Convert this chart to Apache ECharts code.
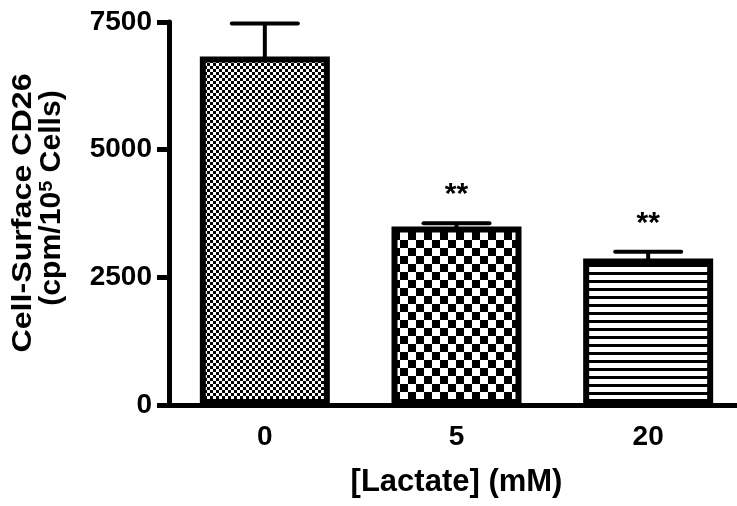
<!DOCTYPE html>
<html>
<head>
<meta charset="utf-8">
<script src="https://cdn.jsdelivr.net/npm/echarts@6/dist/echarts.min.js"></script>
<style>html,body{margin:0;padding:0;background:#fff}#c{width:737px;height:506px}</style>
</head>
<body>
<div id="c"></div>
<script>
// ---- data ----
const categories = ['0', '5', '20'];
const means = [6824, 3495, 2869];
const errors = [646, 65, 131];
const sigMarks = ['', '**', '**'];
const yTicks = [0, 2500, 5000, 7500];
const yTitle1 = 'Cell-Surface CD26';
const yTitle2 = '{a|(cpm/10}{s|5}{a| Cells)}';

// ---- patterns ----
function makeCanvas(w, h, draw) {
  const c = document.createElement('canvas');
  c.width = w; c.height = h;
  const ctx = c.getContext('2d');
  ctx.fillStyle = '#fff'; ctx.fillRect(0, 0, w, h);
  ctx.fillStyle = '#000';
  draw(ctx);
  return c;
}
const fineChecker = makeCanvas(6, 6, ctx => { ctx.fillRect(0, 0, 3, 3); ctx.fillRect(3, 3, 3, 3); });
const bigChecker = makeCanvas(16, 16, ctx => { ctx.fillRect(0, 0, 8, 8); ctx.fillRect(8, 8, 8, 8); });
const hLines = makeCanvas(8, 8, ctx => { ctx.fillRect(0, 0, 8, 3); });
const patterns = [fineChecker, bigChecker, hLines];

const chart = echarts.init(document.getElementById('c'), null, { renderer: 'canvas' });
const FONT = 'Liberation Sans, Arial, sans-serif';

chart.setOption({
  animation: false,
  grid: { left: 169, top: 22, width: 575, height: 383, containLabel: false, outerBoundsMode: 'none' },
  graphic: [
    {
      type: 'text', x: 23, y: 213, rotation: Math.PI / 2, scaleX: 1.15,
      style: { text: yTitle1, font: 'bold 28px ' + FONT, fill: '#000', textAlign: 'center', textVerticalAlign: 'middle' }
    },
    {
      type: 'text', x: 52, y: 198, rotation: Math.PI / 2, scaleX: 1.04,
      style: {
        text: yTitle2, fill: '#000', textAlign: 'center', textVerticalAlign: 'middle',
        rich: {
          a: { fontFamily: FONT, fontWeight: 'bold', fontSize: 29, fill: '#000', lineHeight: 30 },
          s: { fontFamily: FONT, fontWeight: 'bold', fontSize: 19, fill: '#000', lineHeight: 30, verticalAlign: 'top', padding: [0, 0, 10, 0] }
        }
      }
    }
  ],
  xAxis: {
    type: 'category',
    data: categories,
    name: '[Lactate] (mM)',
    nameLocation: 'middle',
    nameGap: 62,
    nameTextStyle: { fontFamily: FONT, fontWeight: 'bold', fontSize: 31, color: '#000' },
    axisLine: { lineStyle: { color: '#000', width: 5 } },
    axisTick: { alignWithLabel: true, length: 12, lineStyle: { color: '#000', width: 5 } },
    axisLabel: { margin: 18, fontFamily: FONT, fontWeight: 'bold', fontSize: 28, color: '#000' }
  },
  yAxis: {
    type: 'value',
    min: yTicks[0],
    max: yTicks[yTicks.length - 1],
    interval: yTicks[1] - yTicks[0],
    splitLine: { show: false },
    axisLine: { show: true, lineStyle: { color: '#000', width: 5 } },
    axisTick: { show: true, length: 12, lineStyle: { color: '#000', width: 5 } },
    axisLabel: { margin: 17, fontFamily: FONT, fontWeight: 'bold', fontSize: 28, color: '#000', formatter: v => String(v) }
  },
  series: [
    {
      type: 'bar',
      barWidth: 130,
      data: means.map((v, i) => ({
        value: v,
        itemStyle: {
          color: { image: patterns[i], repeat: 'repeat' },
          borderColor: '#000',
          borderWidth: 6
        }
      })),
      z: 2
    },
    {
      type: 'custom',
      data: means.map((v, i) => [i, v, errors[i]]),
      z: 1,
      renderItem: function (params, api) {
        const i = api.value(0);
        const base = api.coord([i, api.value(1)]);
        const top = api.coord([i, api.value(1) + api.value(2)]);
        const half = 33;
        const children = [
          { type: 'line', shape: { x1: base[0], y1: base[1] + 4, x2: top[0], y2: top[1] }, style: { stroke: '#000', lineWidth: 4 } },
          { type: 'line', shape: { x1: top[0] - half, y1: top[1], x2: top[0] + half, y2: top[1] }, style: { stroke: '#000', lineWidth: 4, lineCap: 'round' } }
        ];
        if (sigMarks[i]) {
          children.push({
            type: 'text',
            style: {
              text: sigMarks[i], x: top[0], y: top[1] - 13,
              textAlign: 'center', textVerticalAlign: 'bottom',
              font: 'bold 30px ' + FONT, fill: '#000'
            },
            z2: 10
          });
        }
        return { type: 'group', children: children };
      }
    }
  ]
});
</script>
</body>
</html>
